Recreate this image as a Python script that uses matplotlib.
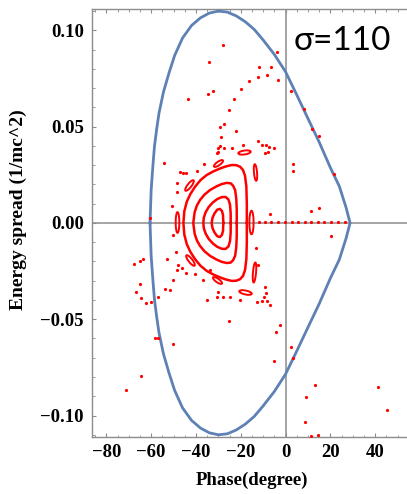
import matplotlib
matplotlib.use("Agg")
import matplotlib.pyplot as plt
from matplotlib.markers import MarkerStyle
from matplotlib.transforms import Affine2D
from matplotlib.ticker import MultipleLocator

# ---------------- data ----------------
# separatrix, upper branch (phase in degrees, energy spread)
sep_phi = [-60.5, -60.0, -59.2, -58.5, -57.5, -56.5, -54.5, -52.0, -49.5, -46.0, -42.0,
           -38.0, -34.0, -30.0, -26.0, -22.0, -18.0, -14.0, -10.0, -5.0, 0.0,
           5.0, 10.0, 15.0, 20.0, 24.0, 27.0, 28.8]
sep_delta = [0.0, 0.017, 0.030, 0.040, 0.049, 0.057, 0.068, 0.078, 0.087, 0.096, 0.1025,
             0.1065, 0.109, 0.110, 0.1095, 0.1075, 0.1045, 0.1005, 0.095, 0.0875, 0.0785,
             0.0665, 0.0542, 0.042, 0.0287, 0.019, 0.008, 0.0]

# closed tori around the stable point (upper halves)
loop1_phi = [-27.8, -27.9, -28.4, -29.3, -30.5, -31.7, -32.6, -33.0]
loop1_delta = [0.0, 0.0040, 0.0062, 0.0073, 0.0069, 0.0050, 0.0027, 0.0]
loop2_phi = [-24.5, -24.5, -24.8, -25.5, -26.8, -28.5, -30.5, -32.5, -34.3, -35.7, -36.5, -36.7]
loop2_delta = [0.0, 0.005, 0.0095, 0.0122, 0.0135, 0.0134, 0.0124, 0.0106, 0.0083, 0.0055, 0.0027, 0.0]
loop3_phi = [-21.8, -21.8, -22.0, -22.5, -23.4, -24.5, -26.3, -28.5, -31.0, -33.7, -36.2,
             -38.2, -39.6, -40.6, -41.2]
loop3_delta = [0.0, 0.007, 0.0125, 0.0170, 0.0193, 0.0206, 0.0208, 0.0202, 0.0189, 0.0171, 0.0147,
               0.0119, 0.0090, 0.0055, 0.0]
loop4_phi = [-17.3, -17.3, -17.5, -18.1, -19.0, -20.3, -22.0, -24.0, -26.5, -29.2, -32.2,
             -35.2, -38.0, -40.4, -42.5, -44.1, -45.2, -45.6]
loop4_delta = [0.0, 0.010, 0.0188, 0.0245, 0.0275, 0.0292, 0.0300, 0.0301, 0.0294, 0.0283, 0.0268,
               0.0249, 0.0222, 0.0188, 0.0150, 0.0110, 0.0060, 0.0]

# resonance islands (centres)
island_phi = [-48.3, -15.5, -42.9, -42.6, -30.1, -30.7, -18.5, -18.1, -13.6, -13.9]
island_delta = [0.0005, 0.0005, 0.0197, -0.0193, 0.031, -0.0297, 0.0367, -0.036, 0.0266, -0.0253]

# scattered tracking points
dots_phi = [-27.8, -34.0, -3.9, -11.7, -6.6, -12.1, -8.1, -3.2, -16.3, 2.3, -32.5, -34.5, -20.0,
            -43.4, -22.9, -25.4, -27.3, -29.4, -22.0, -28.8, -29.2, -30.0, -27.3, -23.8, -19.1,
            -12.4, -10.4, -8.8, -7.4, -5.1, -9.2, -30.0, -30.4, -7.7, 8.4, 12.0, 14.8, 3.2, 3.2,
            21.8, -6.9, 11.3, 15.0, 20.3,
            -54.2, -36.4, -39.6, -47.1, -45.6, -44.4, -48.3, -48.3, -50.8, -60.5, -50.1,
            -67.5, -65.0, -63.8, -53.0, -48.9, -47.9, -46.3, -48.3, -44.4, -40.3, -33.7,
            -65.0, -66.6, -64.6, -62.5, -59.9, -56.8, -54.0, -51.8, -50.4, -36.7, -35.2,
            -30.0, -30.5, -27.8, -24.9, -20.3, -12.9, -10.3, -8.4, -9.6, -6.8, -9.1, -8.8,
            -13.2, -12.3, -25.4, -2.5, -4.2, -58.3, -56.8, -50.1, 2.3, 3.5, -5.1, -64.6,
            -71.2, 13.0, 9.2, 8.7, 11.2, 14.5, 41.4, 45.2,
            -11.7, -9.2, -6.7, -3.4, -0.2, 2.8, 5.7, 8.7, 11.4, 14.4, 17.3, 20.3, 23.4, 26.4]
dots_delta = [0.0924, 0.0835, 0.0889, 0.0808, 0.0808, 0.0759, 0.0766, 0.0742, 0.0737, 0.0685,
              0.0685, 0.0668, 0.0695, 0.0643, 0.0643, 0.0585, 0.0515, 0.0496, 0.0476, 0.0448,
              0.0399, 0.0387, 0.0387, 0.0387, 0.0403, 0.0424, 0.0406, 0.0403, 0.0393, 0.0390,
              0.0361, 0.0370, 0.0361, 0.0370, 0.0590, 0.0486, 0.0451, 0.0304, 0.0269, 0.0252,
              0.0045, 0.0060, 0.0077, -0.0068,
              0.0313, 0.0304, 0.0271, 0.0266, 0.0258, 0.0258, 0.0206, 0.0162, 0.0088, 0.0024,
              -0.0063, -0.0213, -0.0196, -0.0185, -0.0189, -0.0151, -0.0216, -0.0236, -0.0242,
              -0.0262, -0.0265, -0.0245, -0.0319, -0.0360, -0.0388, -0.0417, -0.0411, -0.0382,
              -0.0342, -0.0348, -0.0296, -0.0296, -0.0400, -0.0359, -0.0382, -0.0383, -0.0383,
              -0.0400, -0.0413, -0.0407, -0.0404, -0.0386, -0.0426, -0.0331, -0.0366, -0.0132,
              -0.0219, -0.0509, -0.0530, -0.0565, -0.0599, -0.0599, -0.0629, -0.0646, -0.0703,
              -0.0715, -0.0795, -0.0868, -0.0843, -0.0902, -0.1036, -0.1106, -0.1100, -0.0854,
              -0.0971,
              0.0005, 0.0005, 0.0005, 0.0005, 0.0005, 0.0005, 0.0005, 0.0005, 0.0005, 0.0005,
              0.0005, 0.0005, 0.0005, 0.0005]

x_ticks = [-80, -60, -40, -20, 0, 20, 40]
y_ticks = [-0.10, -0.05, 0.00, 0.05, 0.10]
x_label = "Phase(degree)"
y_label = "Energy spread (1/mc^2)"
title_text = "σ=110"

# ---------------- styles ----------------
island_len = [15.0, 17.0, 9.5, 9.5, 7.8, 7.8, 9.0, 9.2, 12.0, 14.5]   # points
island_wid = [2.6, 3.0, 2.8, 2.8, 2.6, 2.6, 2.8, 2.8, 2.2, 2.2]
island_ang = [90, 90, 52, -52, 35, -35, 8, -12, 95, 85]

RED = "#FF0000"
BLUE = "#5E81B5"
GRAY = "#8C8C8C"
TICKFONT = dict(family="Liberation Serif", weight="bold", size=13.5)

fig = plt.figure(figsize=(4.07, 4.94), dpi=100)
ax = fig.add_axes([92 / 407, 1 - 436.7 / 494, (407 - 92) / 407, (436.7 - 9) / 494])

ax.set_xlim(-86.4, 54.2)
ax.set_ylim(-0.1110, 0.1111)

# coordinate axes through origin
ax.axhline(0, color=GRAY, lw=1.1, zorder=1)
ax.axvline(0, color=GRAY, lw=1.1, zorder=1)

# separatrix
sx = sep_phi + sep_phi[::-1]
sy = sep_delta + [-v for v in sep_delta[::-1]]
ax.plot(sx, sy, color=BLUE, lw=2.0, solid_joinstyle="round", zorder=3)

# tori
for lp, ld in [(loop1_phi, loop1_delta), (loop2_phi, loop2_delta),
               (loop3_phi, loop3_delta), (loop4_phi, loop4_delta)]:
    px = lp + lp[::-1]
    py = ld + [-v for v in ld[::-1]]
    ax.plot(px, py, color=RED, lw=1.8, solid_joinstyle="round", zorder=4)

# islands
for p, d, L, W, a in zip(island_phi, island_delta, island_len, island_wid, island_ang):
    m = MarkerStyle("o", fillstyle="none",
                    transform=Affine2D().scale(1.0, W / L).rotate_deg(a))
    ax.plot([p], [d], linestyle="none", marker=m, markersize=L,
            markeredgecolor=RED, markeredgewidth=1.4, zorder=4)

# scattered points
ax.plot(dots_phi, dots_delta, linestyle="none", marker="o", markersize=2.3,
        markerfacecolor=RED, markeredgewidth=0, zorder=5)

# frame and ticks
for side in ["left", "bottom", "top"]:
    ax.spines[side].set_color(GRAY)
    ax.spines[side].set_linewidth(1.0)
ax.spines["right"].set_visible(False)

ax.set_xticks(x_ticks)
ax.set_yticks(y_ticks)
ax.set_xticklabels([str(v) if v >= 0 else "\u2212" + str(-v) for v in x_ticks],
                   fontdict=TICKFONT)
ax.set_yticklabels([f"{v:.2f}" if v >= 0 else "\u2212" + f"{-v:.2f}" for v in y_ticks],
                   fontdict=TICKFONT)
ax.xaxis.set_minor_locator(MultipleLocator(5))
ax.yaxis.set_minor_locator(MultipleLocator(0.01))
ax.tick_params(which="both", direction="in", color=GRAY, top=True, right=False)
ax.tick_params(which="major", length=3.0, width=0.8)
ax.tick_params(which="minor", length=1.8, width=0.6)
ax.tick_params(axis="x", which="major", pad=5)
ax.tick_params(axis="y", which="major", pad=6)

ax.set_xlabel(x_label, fontfamily="Liberation Serif", fontweight="bold", fontsize=13.5)
ax.set_ylabel(y_label, fontfamily="Liberation Serif", fontweight="bold", fontsize=14)
ax.xaxis.set_label_coords((251.7 - 92) / 315, (436.7 - 480) / 427.7)
ax.xaxis.label.set_va("center")
ax.yaxis.set_label_coords((18 - 92) / 315, 1 - (210 - 9) / 427.7)
ax.yaxis.label.set_va("center")

ax.text((342.5 - 92) / 315, 1 - (41.5 - 9) / 427.7, title_text, transform=ax.transAxes,
        ha="center", va="center", fontsize=24, family=["Lato", "DejaVu Sans"], color="black")

fig.savefig("out.png", dpi=100)
